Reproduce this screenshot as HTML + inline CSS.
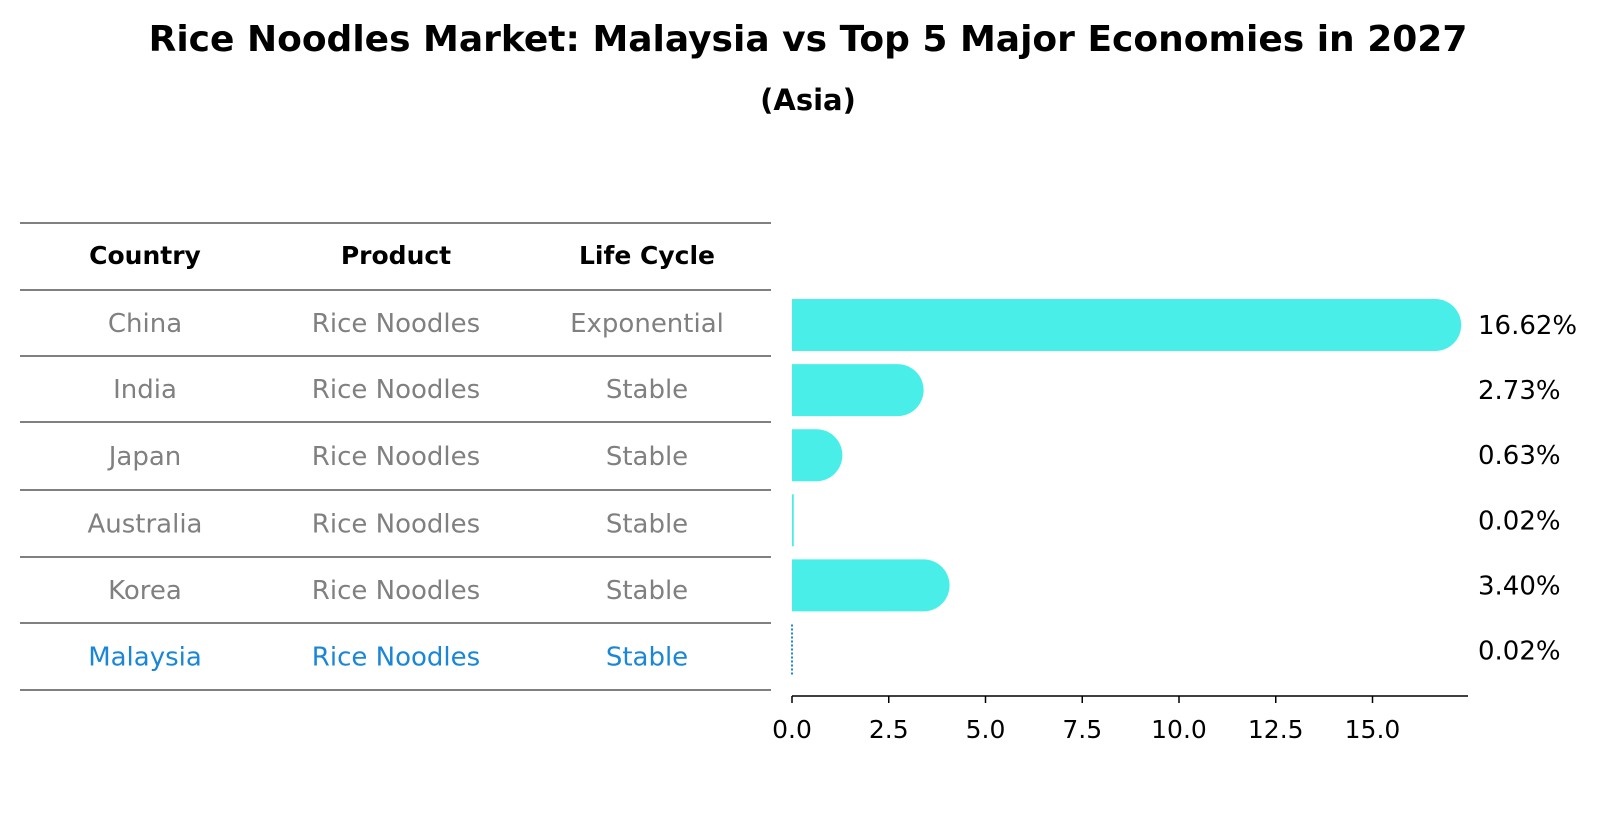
<!DOCTYPE html>
<html><head><meta charset="utf-8"><style>
body{margin:0;background:#fff;font-family:"Liberation Sans","DejaVu Sans",sans-serif;}
svg text{font-family:"DejaVu Sans","Liberation Sans",sans-serif;}
</style></head><body>
<svg width="1604" height="823" viewBox="0 0 1604 823" xmlns="http://www.w3.org/2000/svg">
<text x="808" y="51" text-anchor="middle" font-size="36" font-weight="bold">Rice Noodles Market: Malaysia vs Top 5 Major Economies in 2027</text>
<text x="808" y="110" text-anchor="middle" font-size="29" font-weight="bold">(Asia)</text>
<g id="table"></g>
<g id="bars"></g>
</svg>
<script>
const countries=["China","India","Japan","Australia","Korea","Malaysia"];
const lifeCycle=["Exponential","Stable","Stable","Stable","Stable","Stable"];
const values=[16.62,2.73,0.63,0.02,3.40,0.02];
const valueLabels=["16.62%","2.73%","0.63%","0.02%","3.40%","0.02%"];
const ticks=[0,2.5,5,7.5,10,12.5,15];
const NS="http://www.w3.org/2000/svg";
function mk(t,a,p,txt){const e=document.createElementNS(NS,t);for(const k in a)e.setAttribute(k,a[k]);if(txt!==undefined)e.textContent=txt;p.appendChild(e);return e;}
const x0=792,ppu=38.7;
function xs(v){return x0+v*ppu;}
function yb(i){return 325+65.1*i;}
const tb=document.getElementById('table');
const lines=[223,290,356,422,490,557,623,690];
lines.forEach((y)=>{const l=mk('line',{x1:20,x2:771,y1:y,y2:y,stroke:'#000','stroke-width':1,'shape-rendering':'crispEdges'},tb);

});
const cols=[145,396,647];
["Country","Product","Life Cycle"].forEach((h,j)=>{const t=mk('text',{x:cols[j],y:264,'text-anchor':'middle','font-size':25,'font-weight':'bold'},tb,h);

});
countries.forEach((c,i)=>{const col=i===5?'#1a86d8':'#808080';const y=(lines[i+1]+lines[i+2])/2+9;
[c,"Rice Noodles",lifeCycle[i]].forEach((s,j)=>{const t=mk('text',{x:cols[j],y:y,'text-anchor':'middle','font-size':26,fill:col},tb,s);

});});
const bg=document.getElementById('bars');
const bh=52,r=26;
values.forEach((v,i)=>{const y=yb(i)-bh/2;const xe=xs(v);
if(i===5){const l=mk('line',{x1:x0,x2:x0,y1:y,y2:y+bh,stroke:'#1a86d8','stroke-width':2,'stroke-dasharray':'2,2'},bg);

}
else{let d;if(v*ppu<2){d=`M${x0},${y}H${xe+1}V${y+bh}H${x0}Z`;}else{d=`M${x0},${y}H${xe}A${r},${bh/2} 0 0 1 ${xe},${y+bh}H${x0}Z`;}
const p=mk('path',{d:d,fill:'#4aeee9'},bg);

}
const t=mk('text',{x:1478,y:yb(i)+9,'font-size':26},bg,valueLabels[i]);

});
const ax=mk('line',{x1:x0,x2:1468,y1:696,y2:696,stroke:'#000','stroke-width':1.5},bg);


ticks.forEach(v=>{const x=xs(v);const l=mk('line',{x1:x,x2:x,y1:696,y2:703,stroke:'#000','stroke-width':1.5},bg);


const t=mk('text',{x:x,y:738,'text-anchor':'middle','font-size':25},bg,v.toFixed(1));

});
</script>
</body></html>
